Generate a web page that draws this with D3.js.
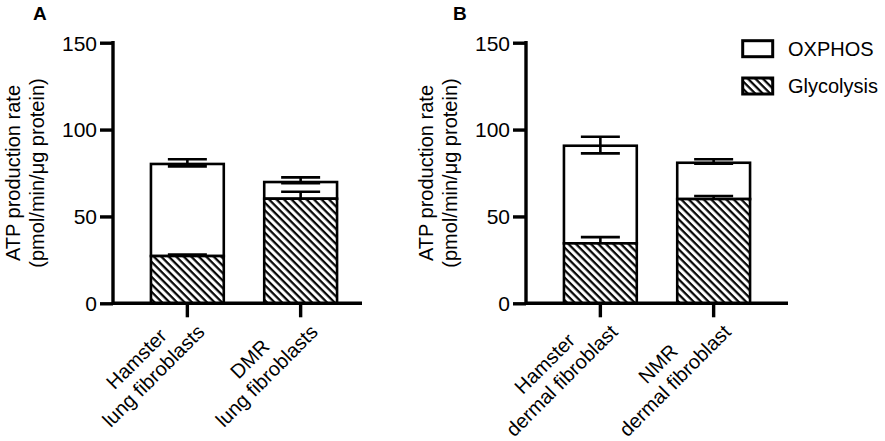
<!DOCTYPE html>
<html>
<head>
<meta charset="utf-8">
<script src="https://cdn.jsdelivr.net/npm/d3@7"></script>
<style>
  html, body { margin: 0; padding: 0; background: #fff; }
  svg { display: block; }
  text { font-family: "Liberation Sans", Arial, sans-serif; fill: #000; }
</style>
</head>
<body>
<svg id="chart" width="885" height="441"></svg>
<script>
// ---------- data ----------
const yTicks = [0, 50, 100, 150];
const yLabelLines = ["ATP production rate", "(pmol/min/\u03bcg protein)"];
const seriesNames = ["OXPHOS", "Glycolysis"];

const categoriesA = [["Hamster", "lung fibroblasts"], ["DMR", "lung fibroblasts"]];
const glycolysisA = [27.2, 60.2];
const glycolysisErrA = [0.9, 4.0];
const oxphosA = [53.0, 9.6];
const oxphosErrUpA = [2.7, 2.7];
const oxphosErrDownA = [1.4, 0.6];

const categoriesB = [["Hamster", "dermal fibroblast"], ["NMR", "dermal fibroblast"]];
const glycolysisB = [34.5, 60.0];
const glycolysisErrB = [3.6, 1.8];
const oxphosB = [56.2, 20.9];
const oxphosErrUpB = [5.2, 2.0];
const oxphosErrDownB = [4.4, 0.6];

// ---------- drawing ----------
const svg = d3.select("#chart");
const defs = svg.append("defs");
const pat = defs.append("pattern")
  .attr("id", "hatch")
  .attr("patternUnits", "userSpaceOnUse")
  .attr("width", 5.3).attr("height", 10)
  .attr("patternTransform", "rotate(-45)");
pat.append("rect").attr("width", 5.3).attr("height", 10).attr("fill", "#fff");
pat.append("line").attr("x1", 1.5).attr("x2", 1.5).attr("y1", 0).attr("y2", 10)
  .attr("stroke", "#000").attr("stroke-width", 2.2);

const yTop = 42.7, yBottom = 303.3;
const y = d3.scaleLinear().domain([0, 150]).range([yBottom, yTop]);

function drawPanel(o) {
  const g = svg.append("g");
  const x = d3.scaleBand().domain(d3.range(o.cats.length))
    .range([o.axisX, o.axisX + 262]).paddingInner(0.357).paddingOuter(0.335);

  // panel letter
  g.append("text").attr("x", o.letterX).attr("y", 20)
    .attr("font-size", 19).attr("font-weight", "bold").text(o.letter);

  // y-axis label
  const yl = g.append("text")
    .attr("transform", `translate(${o.axisX - 93},${(yTop + yBottom) / 2}) rotate(-90)`)
    .attr("text-anchor", "middle").attr("font-size", 20);
  yLabelLines.forEach((t, i) => yl.append("tspan").attr("x", 0).attr("y", i * 23.5).text(t));

  const n = o.cats.length;
  const bw = x.bandwidth();
  const capW = 39;

  // OXPHOS bars (white)
  g.selectAll(".ox").data(d3.range(n)).join("rect")
    .attr("x", i => x(i)).attr("width", bw)
    .attr("y", i => y(o.glyco[i] + o.ox[i]))
    .attr("height", i => y(o.glyco[i]) - y(o.glyco[i] + o.ox[i]))
    .attr("fill", "#fff").attr("stroke", "#000").attr("stroke-width", 2.6);

  // error bars
  function errBar(cx, mean, up, down) {
    const eg = g.append("g").attr("stroke", "#000").attr("stroke-width", 2.6);
    eg.append("line").attr("x1", cx).attr("x2", cx).attr("y1", y(mean + up)).attr("y2", y(mean - down));
    eg.append("line").attr("x1", cx - capW / 2).attr("x2", cx + capW / 2).attr("y1", y(mean + up)).attr("y2", y(mean + up));
    eg.append("line").attr("x1", cx - capW / 2).attr("x2", cx + capW / 2).attr("y1", y(mean - down)).attr("y2", y(mean - down));
  }
  for (let i = 0; i < n; i++) {
    const cx = x(i) + bw / 2;
    errBar(cx, o.glyco[i] + o.ox[i], o.oxUp[i], o.oxDown[i]);
    errBar(cx, o.glyco[i], o.glycoErr[i], o.glycoErr[i]);
  }

  // Glycolysis bars (hatched)
  g.selectAll(".gl").data(d3.range(n)).join("rect")
    .attr("x", i => x(i)).attr("width", bw)
    .attr("y", i => y(o.glyco[i]))
    .attr("height", i => y(0) - y(o.glyco[i]))
    .attr("fill", "url(#hatch)").attr("stroke", "#000").attr("stroke-width", 2.6);

  // y axis
  const ya = g.append("g").attr("transform", `translate(${o.axisX},0)`)
    .call(d3.axisLeft(y).tickValues(yTicks).tickSize(13).tickPadding(3).tickFormat(d3.format("d")));
  ya.select(".domain").attr("stroke-width", 3.4).attr("stroke-linecap", "square").attr("d", `M0,${yTop}V${yBottom}`);
  ya.selectAll(".tick line").attr("stroke-width", 3.4);
  ya.selectAll(".tick text").attr("font-size", 21).attr("font-family", "Liberation Sans, Arial, sans-serif").attr("fill", "#000").attr("dy", "0.35em");

  // x axis
  const xa = g.append("g").attr("transform", `translate(0,${yBottom})`)
    .call(d3.axisBottom(x).tickSize(14).tickFormat(""));
  xa.select(".domain").attr("stroke-width", 3.4).attr("d", `M${o.axisX},0H${o.axisEnd}`);
  xa.selectAll(".tick line").attr("stroke-width", 3.4);

  // category labels
  for (let i = 0; i < n; i++) {
    const cx = x(i) + bw / 2;
    const lg = g.append("g").attr("transform", `translate(${cx - 1},${yBottom + 10.5}) rotate(-45)`);
    const texts = o.cats[i].map((t, j) => lg.append("text").attr("font-size", 20)
      .attr("text-anchor", "middle").attr("y", 3.5 + j * 24).text(t));
    const w = d3.max(texts, t => t.node().getComputedTextLength());
    texts.forEach(t => t.attr("x", -w / 2));
  }
}

drawPanel({ letter: "A", letterX: 33, axisX: 113, axisEnd: 362, cats: categoriesA,
  glyco: glycolysisA, glycoErr: glycolysisErrA, ox: oxphosA, oxUp: oxphosErrUpA, oxDown: oxphosErrDownA });
drawPanel({ letter: "B", letterX: 453, axisX: 526, axisEnd: 788, cats: categoriesB,
  glyco: glycolysisB, glycoErr: glycolysisErrB, ox: oxphosB, oxUp: oxphosErrUpB, oxDown: oxphosErrDownB });

// legend
const legend = svg.append("g");
seriesNames.forEach((s, i) => {
  const ly = 40.7 + i * 37.3;
  legend.append("rect").attr("x", 742.7).attr("y", ly).attr("width", 30).attr("height", 16)
    .attr("fill", i === 0 ? "#fff" : "url(#hatch)").attr("stroke", "#000").attr("stroke-width", 3);
  legend.append("text").attr("x", 788).attr("y", ly + 15).attr("font-size", 20).text(s);
});
</script>
</body>
</html>
